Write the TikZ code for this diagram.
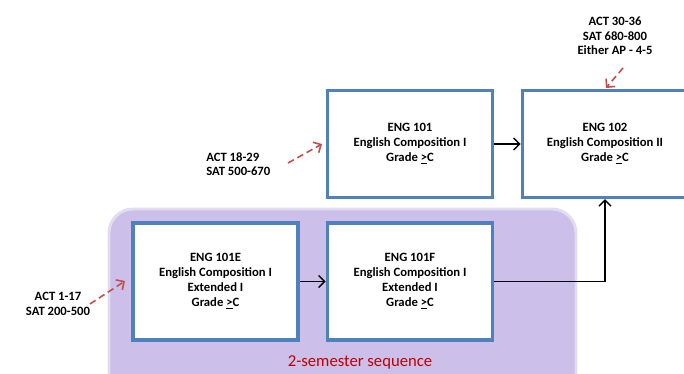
\documentclass[tikz,border=0pt]{standalone}
\usepackage{fontspec}
\setmainfont{Carlito}
\usepackage{tikz}
\usetikzlibrary{arrows.meta}
\usetikzlibrary{positioning}
\usetikzlibrary{calc}
\definecolor{boxblue}{HTML}{4F81BD}
\definecolor{hintred}{HTML}{C0504D}
\definecolor{seqfill}{HTML}{CCC0EA}
\definecolor{seqedge}{HTML}{E2DCF2}
\definecolor{seqtext}{HTML}{C00000}
\tikzset{
  course/.style = {draw=boxblue, line width=2.7pt, fill=white, align=center,
    inner sep=0pt, minimum width=124pt, minimum height=80pt,
    font=\bfseries\fontsize{9.5}{11.25}\selectfont},% cours
  course_x/.style = {course, minimum height=88pt},% cours etendu
  entry/.style = {align=center, inner sep=0pt,
    font=\bfseries\fontsize{9.5}{10.9}\selectfont},% scores d'entree
  hint/.style = {dash pattern=on 5pt off 3pt, draw=hintred, line width=1.2pt,
    -{Straight Barb[length=4.5pt,width=9pt]}},
  link/.style = {draw=black, line width=1pt,
    -{Straight Barb[length=4.5pt,width=9pt]}}
}

\begin{document}
\begin{tikzpicture}[x=0.75pt,y=-0.75pt]
\useasboundingbox (0,0) rectangle (684,374);
% sequence sur deux semestres
\draw [fill=seqfill, draw=seqedge, line width=2.2pt, rounded corners=18pt]
  (109,209) rectangle (576,400);
\node [text=seqtext, font=\fontsize{12.5}{14}\selectfont] (seq) at (360,362)
  {2-semester sequence};

\node [course] (e101) at (410,144)
  {ENG 101\\English Composition I\\Grade \underline{>}C};
\node [course] (e102) at (605,144)
  {ENG 102\\English Composition II\\Grade \underline{>}C};
\node [course_x] (e101e) at (215.5,281.5)
  {ENG 101E\\English Composition I\\Extended I\\Grade \underline{>}C};
\node [course_x] (e101f) at (410,281.5)
  {ENG 101F\\English Composition I\\Extended I\\Grade \underline{>}C};

\draw [link] (e101) -- (e102);
\draw [link] (e101e) -- (e101f);
\draw [link] (e101f.east) -| (e102.south);

% scores d'entree
\node [entry] (s102) at (615,36) {ACT 30-36\\SAT 680-800\\Either AP - 4-5};
\node [entry, align=left, anchor=west] (s101) at (206,164) {ACT 18-29\\SAT 500-670};
\node [entry] (s101e) at (58,304) {ACT 1-17\\SAT 200-500};

\coordinate (t102) at (606,88);
\coordinate (f102) at (623,68);
\coordinate (t101) at (322,144);
\coordinate (f101) at (288,163);
\coordinate (t101e) at (125,281);
\coordinate (f101e) at (90,304);
\draw [hint] (f102) -- (t102);
\draw [hint] (f101) -- (t101);
\draw [hint] (f101e) -- (t101e);
\end{tikzpicture}
\end{document}
